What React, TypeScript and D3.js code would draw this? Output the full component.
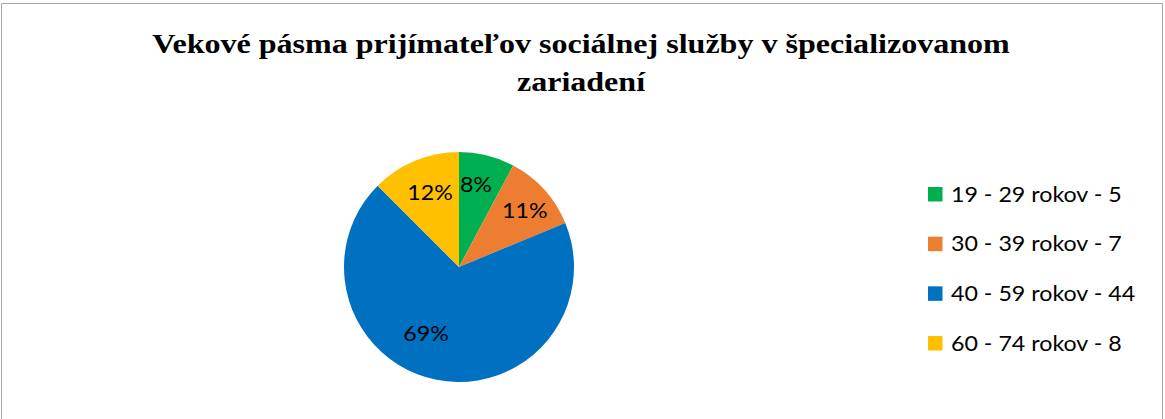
import React from "react";
import * as d3 from "d3";

const title = ["Vekové pásma prijímateľov sociálnej služby v špecializovanom", "zariadení"];
const categories = ["19 - 29 rokov - 5", "30 - 39 rokov - 7", "40 - 59 rokov - 44", "60 - 74 rokov - 8"];
const values = [5, 7, 44, 8];
const percentLabels = ["8%", "11%", "69%", "12%"];
const colors = ["#00b050", "#ed7d31", "#0070c0", "#ffc000"];

const W = 1165;
const H = 419;
const cx = 459;
const cy = 267;
const R = 115;
// label placement style (radius fraction, angle shift in degrees)
const labelRadiusFrac = [0.734, 0.754, 0.642, 0.699];
const labelAngleShift = [-2.5, 1.5, 15.3, 1.4];
const labelFont = "Lato, 'Open Sans', sans-serif";
const textScaleX = 1.08;
const titleScaleX = 1.145;

export default function App() {
  const pie = d3.pie<number>().sort(null).value((d) => d)(values);
  const arc = d3.arc<d3.PieArcDatum<number>>().innerRadius(0).outerRadius(R);
  const legendY = d3.scalePoint<string>().domain(categories).range([194, 343]);

  return (
    <svg
      width={W}
      height={H}
      style={{ position: "absolute", left: 0, top: 0, background: "#fff" }}
    >
      <rect x={0} y={0} width={W} height={H} fill="#fff" />
      <path d={`M1.5,${H} V3.5 H1162.5 V${H}`} fill="none" stroke="#a6a6a6" strokeWidth={1} />
      <g
        fontFamily="'Liberation Serif', 'Times New Roman', serif"
        fontWeight="bold"
        fontSize={28}
        textAnchor="middle"
        fill="#000"
        transform={`translate(581,0) scale(${titleScaleX},1)`}
      >
        {title.map((t, i) => (
          <text key={i} x={0} y={53 + i * 38}>{t}</text>
        ))}
      </g>
      <g transform={`translate(${cx},${cy})`}>
        {pie.map((p, i) => (
          <path key={i} d={arc(p) ?? ""} fill={colors[i]} />
        ))}
        {pie.map((p, i) => {
          const a = (p.startAngle + p.endAngle) / 2 + (labelAngleShift[i] * Math.PI) / 180;
          const r = R * labelRadiusFrac[i];
          const x = Math.sin(a) * r;
          const y = -Math.cos(a) * r;
          return (
            <text
              key={i}
              transform={`translate(${x},${y}) scale(${textScaleX},1)`}
              dy="0.36em"
              textAnchor="middle"
              fontFamily={labelFont}
              fontSize={21.5}
              fill="#000"
            >
              {percentLabels[i]}
            </text>
          );
        })}
      </g>
      <g fontFamily={labelFont} fontSize={21.5} fill="#000">
        {categories.map((c, i) => (
          <g key={c} transform={`translate(928,${legendY(c)})`}>
            <rect x={0} y={-7} width={14.5} height={14.5} fill={colors[i]} />
            <text transform={`translate(23,0) scale(${textScaleX},1)`} dy="0.36em">{c}</text>
          </g>
        ))}
      </g>
    </svg>
  );
}
